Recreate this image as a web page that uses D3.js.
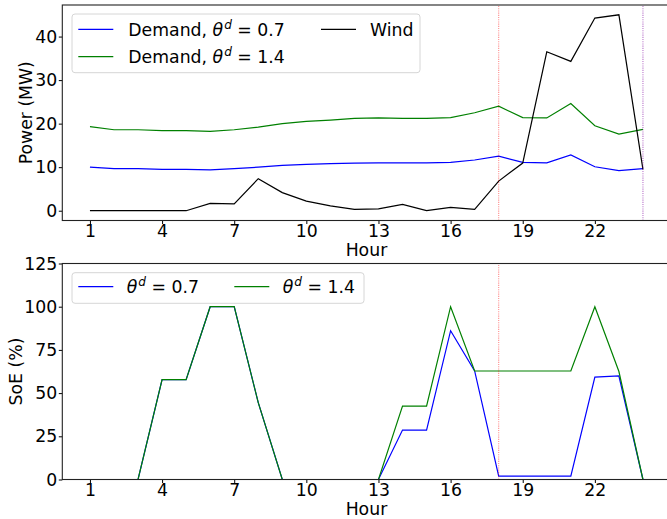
<!DOCTYPE html>
<html>
<head>
<meta charset="utf-8">
<script src="https://cdn.jsdelivr.net/npm/d3@7"></script>
<style>
  html, body { margin: 0; padding: 0; background: #fff; }
  svg { display: block; font-family: "DejaVu Sans", sans-serif; }
</style>
</head>
<body>
<svg id="chart" width="667" height="519"></svg>
<script>
// Hourly data for one day
const hours = [1, 2, 3, 4, 5, 6, 7, 8, 9, 10, 11, 12, 13, 14, 15, 16, 17, 18, 19, 20, 21, 22, 23, 24];
const demandLow = [10.0, 9.65, 9.65, 9.5, 9.5, 9.4, 9.65, 10.0, 10.4, 10.65, 10.8, 10.95, 11.0, 11.0, 11.0, 11.1, 11.65, 12.55, 11.1, 11.0, 12.8, 10.1, 9.2, 9.65];
const demandHigh = [19.3, 18.6, 18.6, 18.4, 18.4, 18.2, 18.6, 19.2, 20.0, 20.5, 20.8, 21.2, 21.3, 21.2, 21.2, 21.4, 22.5, 24.0, 21.4, 21.3, 24.6, 19.5, 17.6, 18.7];
const wind = [0, 0, 0, 0, 0, 1.7, 1.55, 7.35, 4.15, 2.2, 1.1, 0.3, 0.4, 1.45, 0, 0.75, 0.3, 6.8, 10.95, 36.5, 34.3, 44.25, 45.0, 9.5];
const soeLow = [0, 0, 0, 57.8, 57.8, 100, 100, 44.5, 0, 0, 0, 0, 0, 28.6, 28.6, 86.1, 62.8, 2.0, 2.0, 2.0, 2.0, 59.3, 59.9, 0];
const soeHigh = [0, 0, 0, 57.8, 57.8, 100, 100, 44.5, 0, 0, 0, 0, 0, 42.5, 42.5, 100, 62.8, 62.8, 62.8, 62.8, 62.8, 100, 62.5, 0];

const xTicks = [1, 4, 7, 10, 13, 16, 19, 22];
const powerTicks = [0, 10, 20, 30, 40];
const soeTicks = [0, 25, 50, 75, 100, 125];
const markerHours = [18, 24];

const FONT = 17.3;
const svg = d3.select("#chart");

const x = d3.scaleLinear().domain([-0.15, 25.15]).range([62.3, 670.6]);
const yPow = d3.scaleLinear().domain([-2.25, 47.25]).range([220.5, 5]);
const ySoe = d3.scaleLinear().domain([0, 125]).range([479.5, 263.5]);

function drawAxes(y, ticks, ylabel, ylabelX) {
  const [y0, y1] = y.range();
  const g = svg.append("g");
  // x axis
  const xa = g.append("g").attr("transform", `translate(0,${y0})`)
    .call(d3.axisBottom(x).tickValues(xTicks).tickSize(3.5).tickPadding(0.5).tickSizeOuter(0));
  xa.select(".domain").remove();
  xa.selectAll("text").attr("font-size", FONT).attr("font-family", "DejaVu Sans").attr("fill", "#000");
  // y axis
  const ya = g.append("g").attr("transform", `translate(${x.range()[0]},0)`)
    .call(d3.axisLeft(y).tickValues(ticks).tickSize(3.5).tickPadding(1.5).tickSizeOuter(0));
  ya.select(".domain").remove();
  ya.selectAll("text").attr("font-size", FONT).attr("font-family", "DejaVu Sans").attr("fill", "#000");
  // frame
  g.append("rect")
    .attr("x", x.range()[0]).attr("y", y1)
    .attr("width", x.range()[1] - x.range()[0]).attr("height", y0 - y1)
    .attr("fill", "none").attr("stroke", "#222").attr("stroke-width", 1.1);
  // labels
  g.append("text").attr("x", (x.range()[0] + x.range()[1]) / 2).attr("y", y0 + 35.5)
    .attr("text-anchor", "middle").attr("font-size", FONT).text("Hour");
  g.append("text")
    .attr("transform", `translate(${ylabelX},${(y0 + y1) / 2}) rotate(-90)`)
    .attr("text-anchor", "middle").attr("font-size", FONT).text(ylabel);
}

function series(y, values, color) {
  const line = d3.line().x((d, i) => x(hours[i])).y(d => y(d));
  svg.append("path").datum(values)
    .attr("d", line).attr("fill", "none")
    .attr("stroke", color).attr("stroke-width", 1.2)
    .attr("stroke-linejoin", "miter");
}

function vline(y, hour, color) {
  svg.append("line")
    .attr("x1", x(hour)).attr("x2", x(hour))
    .attr("y1", y.range()[0]).attr("y2", y.range()[1])
    .attr("stroke", color).attr("stroke-width", 1.1)
    .attr("stroke-dasharray", "1.1,1.1");
}

// label with an italic theta and superscript d
function mathLabel(sel, prefix, suffix) {
  if (prefix) sel.append("tspan").text(prefix);
  sel.append("tspan").attr("font-style", "italic").text("\u03b8");
  sel.append("tspan").attr("font-style", "italic").attr("font-size", FONT * 0.7)
    .attr("dy", -6.8).attr("dx", 1).text("d");
  sel.append("tspan").attr("dy", 6.8).text(suffix);
}

function legendBox(x0, y0, w, h) {
  svg.append("rect").attr("x", x0).attr("y", y0).attr("width", w).attr("height", h)
    .attr("rx", 3).attr("fill", "#fff").attr("fill-opacity", 0.8)
    .attr("stroke", "#d6d6d6").attr("stroke-width", 1);
}

function legendItem(hx, hy, color) {
  svg.append("line").attr("x1", hx).attr("x2", hx + 35)
    .attr("y1", hy).attr("y2", hy).attr("stroke", color).attr("stroke-width", 1.2);
}

// ---- Power panel ----
series(yPow, demandLow, "#0000ff");
series(yPow, demandHigh, "#008000");
series(yPow, wind, "#000000");
vline(yPow, markerHours[0], "rgba(255,0,0,0.45)");
vline(yPow, markerHours[1], "rgba(128,0,160,0.55)");
drawAxes(yPow, powerTicks, "Power (MW)", 31.5);

legendBox(72, 14, 348, 58.7);
legendItem(78.3, 29.3, "#0000ff");
legendItem(78.3, 56.7, "#008000");
legendItem(321, 29.3, "#000000");
mathLabel(svg.append("text").attr("x", 128.3).attr("y", 35.7).attr("font-size", FONT), "Demand, ", " = 0.7");
mathLabel(svg.append("text").attr("x", 128.3).attr("y", 63.2).attr("font-size", FONT), "Demand, ", " = 1.4");
svg.append("text").attr("x", 370).attr("y", 35.7).attr("font-size", FONT).text("Wind");

// ---- State of energy panel ----
series(ySoe, soeLow, "#0000ff");
series(ySoe, soeHigh, "#008000");
vline(ySoe, markerHours[0], "rgba(255,0,0,0.45)");
drawAxes(ySoe, soeTicks, "SoE (%)", 21.5);

legendBox(72, 272.7, 292, 30.6);
legendItem(78.3, 286.7, "#0000ff");
legendItem(234.3, 286.7, "#008000");
mathLabel(svg.append("text").attr("x", 126.7).attr("y", 292.7).attr("font-size", FONT), "", " = 0.7");
mathLabel(svg.append("text").attr("x", 282.7).attr("y", 292.7).attr("font-size", FONT), "", " = 1.4");
</script>
</body>
</html>
